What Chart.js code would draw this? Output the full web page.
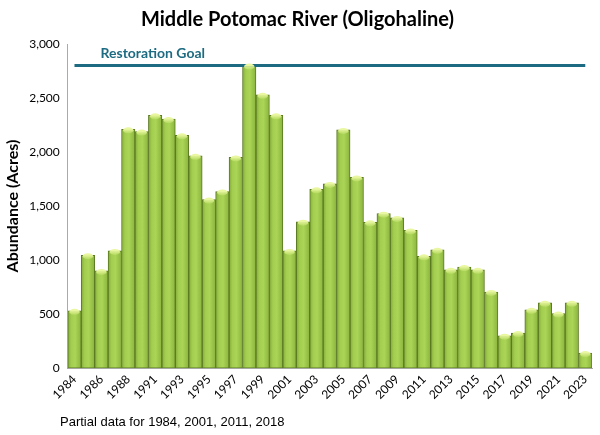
<!DOCTYPE html>
<html>
<head>
<meta charset="utf-8">
<script src="https://cdn.jsdelivr.net/npm/chart.js@4"></script>
<style>
  html, body { margin: 0; padding: 0; background: #fff; }
  #wrap { width: 600px; height: 435px; }
</style>
</head>
<body>
<div id="wrap"><canvas id="sav"></canvas></div>
<script>
// 数据
const years = ['1984', '1985', '1986', '1987', '1988', '1989',
  '1991', '1992', '1993', '1994', '1995', '1996', '1997', '1998', '1999', '2000',
  '2001', '2002', '2003', '2004', '2005', '2006', '2007', '2008', '2009', '2010',
  '2011', '2012', '2013', '2014', '2015', '2016', '2017', '2018', '2019', '2020',
  '2021', '2022', '2023'];
const acres = [530, 1045, 900, 1085, 2210, 2190,
  2340, 2305, 2155, 1965, 1560, 1635, 1950, 2800, 2530, 2340,
  1085, 1355, 1655, 1705, 2205, 1765, 1350, 1430, 1390, 1275,
  1035, 1095, 910, 935, 910, 705, 300, 325, 540, 605,
  505, 605, 140];
const goal = 2800;
const goalLine = years.map(() => goal);
const yTicks = [0, 500, 1000, 1500, 2000, 2500, 3000];

const calibri = 'Lato, "Open Sans", sans-serif';

// 柱子渐变
function barFill(ctx) {
    const chart = ctx.chart;
    const xs = chart.scales.x;
    if (!chart.chartArea || !xs) return '#9cc94a';
    const cx = xs.getPixelForValue(ctx.dataIndex);
    const w = xs.width / years.length;
    const g = chart.ctx.createLinearGradient(cx - w / 2, 0, cx + w / 2, 0);
    g.addColorStop(0, '#84ab3a');
    g.addColorStop(0.25, '#a2cd4f');
    g.addColorStop(0.55, '#aad556');
    g.addColorStop(1, '#8ab33d');
    return g;
}

// 柱顶高光 + 文字
const extras = {
    id: 'extras',
    afterDatasetsDraw(chart) {
        const c = chart.ctx;
        const meta = chart.getDatasetMeta(0);
        c.save();
        meta.data.forEach(bar => {
            const w = bar.width;
            const g = c.createLinearGradient(0, bar.y, 0, bar.y + 6);
            g.addColorStop(0, '#e8f7a0');
            g.addColorStop(1, 'rgba(200,230,110,0)');
            c.fillStyle = g;
            c.beginPath();
            c.ellipse(bar.x, bar.y + 1, w / 2 - 1.5, 3, 0, 0, Math.PI * 2);
            c.fill();
        });
        const xs = chart.scales.x, ys = chart.scales.y;
        c.fillStyle = '#1d6b82';
        c.font = 'bold 14px ' + calibri;
        c.textAlign = 'left';
        c.textBaseline = 'alphabetic';
        c.fillText('Restoration Goal', xs.getPixelForValue(0) + 26, ys.getPixelForValue(goal) - 8);
        c.fillStyle = '#000';
        c.font = '13px "Liberation Sans", Arial, sans-serif';
        c.fillText('Partial data for 1984, 2001, 2011, 2018', 60, 426);
        c.restore();
    }
};

new Chart(document.getElementById('sav').getContext('2d'), {
    type: 'bar',
    data: {
        labels: years,
        datasets: [
            {
                type: 'bar',
                label: 'Abundance',
                data: acres,
                backgroundColor: barFill,
                borderColor: '#5b7a22',
                borderWidth: 1,
                borderSkipped: false,
                barPercentage: 1,
                categoryPercentage: 1,
                order: 2
            },
            {
                type: 'line',
                label: 'Restoration Goal',
                data: goalLine,
                borderColor: '#1d6b82',
                borderWidth: 3,
                pointRadius: 0,
                fill: false,
                order: 1
            }
        ]
    },
    options: {
        responsive: true,
        maintainAspectRatio: false,
        animation: false,
        layout: { padding: { left: 3, right: 8, top: 0, bottom: 29 } },
        plugins: {
            legend: { display: false },
            tooltip: { enabled: false },
            title: {
                display: true,
                text: 'Middle Potomac River (Oligohaline)',
                color: '#000',
                font: { family: calibri, size: 20, weight: 'bold' },
                padding: { top: 8, bottom: 12 }
            }
        },
        scales: {
            x: {
                offset: true,
                grid: { display: false, drawTicks: false },
                border: { color: '#aaa' },
                ticks: {
                    autoSkip: false,
                    maxRotation: 45,
                    minRotation: 45,
                    color: '#000',
                    padding: 4,
                    font: { family: calibri, size: 12 },
                    callback: function(value, index) {
                        return index % 2 === 0 ? years[index] : '';
                    }
                }
            },
            y: {
                min: 0,
                max: 3000,
                afterBuildTicks: axis => { axis.ticks = yTicks.map(v => ({ value: v })); },
                grid: { display: false, drawTicks: true, tickLength: 4, color: '#aaa' },
                border: { color: '#aaa' },
                title: {
                    display: true,
                    text: 'Abundance (Acres)',
                    color: '#000',
                    font: { family: calibri, size: 16, weight: 'bold' },
                    padding: { top: 0, bottom: 3 }
                },
                ticks: {
                    color: '#000',
                    padding: 4,
                    font: { family: calibri, size: 12 },
                    callback: v => v.toLocaleString('en-US')
                }
            }
        }
    },
    plugins: [extras]
});
</script>
</body>
</html>
